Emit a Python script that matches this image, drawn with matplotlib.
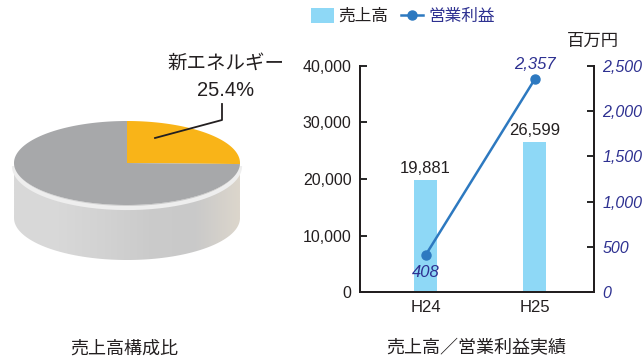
import numpy as np
import matplotlib
matplotlib.use('Agg')
import matplotlib.pyplot as plt
from matplotlib.patches import Polygon
from matplotlib.colors import LinearSegmentedColormap

plt.rcParams['font.family'] = ['Liberation Sans', 'Noto Sans CJK JP']

# pie data
pie_labels = ['新エネルギー', 'その他']
pie_shares = [25.4, 74.6]
pie_colors = ['#f9b418', '#a7a8aa']

# bar / line data
years = ['H24', 'H25']
sales = [19881, 26599]
profit = [408, 2357]

navy = '#2e3191'
bar_color = '#8ed8f6'
line_color = '#2d79c0'
ink = '#231f20'

W, H = 644, 357
fig = plt.figure(figsize=(W / 100, H / 100), dpi=100)

# overlay in pixel coordinates for the 3d pie and free text
ov = fig.add_axes([0, 0, 1, 1])
ov.axis('off')

cx, cy, rx, ry, depth = 127, 163, 113, 42, 55


def ell(t):
    return cx + rx * np.cos(t), cy - ry * np.sin(t)


# side of the cylinder (front half)
t = np.linspace(np.pi, 2 * np.pi, 200)
xs, ys = ell(t)
side = np.vstack([np.column_stack([xs, ys]),
                  np.column_stack([xs[::-1], ys[::-1] + depth])])
side_poly = Polygon(side, closed=True, facecolor='none', edgecolor='none')
ov.add_patch(side_poly)
cmap = LinearSegmentedColormap.from_list(
    'side', ['#d9d9d9', '#d8d8d8', '#d2d2d2', '#cbcbcb', '#c9c9c9', '#dcd6cc'])
grad = np.linspace(0, 1, 300).reshape(1, -1)
im = ov.imshow(grad, cmap=cmap, extent=[cx - rx, cx + rx, cy + ry + depth, cy - ry],
               aspect='auto', zorder=1)
im.set_clip_path(side_poly)
# light rim just under the top face
ov.plot(xs, ys + 3, color='#eeeeee', lw=3, zorder=2, solid_capstyle='butt')
ov.set_xlim(0, W)
ov.set_ylim(H, 0)

# top face wedges, starting at 12 o'clock going clockwise
start = 90.0
for share, col in zip(pie_shares, pie_colors):
    end = start - share / 100 * 360
    tt = np.radians(np.linspace(start, end, 200))
    px, py = ell(tt)
    pts = np.vstack([[cx, cy], np.column_stack([px, py])])
    ov.add_patch(Polygon(pts, closed=True, facecolor=col, edgecolor='none', zorder=3))
    start = end

# label with leader line
ov.text(226, 64, pie_labels[0], ha='center', va='center', fontsize=14, color=ink)
ov.text(226, 90, '{:.1f}%'.format(pie_shares[0]), ha='center', va='center',
        fontsize=14.5, color=ink)
ov.plot([222, 222, 155], [104, 120, 138], color=ink, lw=1.3, zorder=4)

ov.text(124, 349, '売上高構成比', ha='center', va='center', fontsize=13, color=ink)
ov.text(476, 349, '売上高／営業利益実績', ha='center', va='center', fontsize=13, color=ink)
ov.text(593, 41, '百万円', ha='center', va='center', fontsize=12.5, color=ink)

# bar + line chart
ax = fig.add_axes([360 / W, 1 - 292 / H, (594 - 360) / W, (292 - 66) / H])
x = np.arange(len(years))
bars = ax.bar(x, sales, width=0.21, color=bar_color, zorder=2, label='売上高')
ax.set_xlim(-0.6, 1.54)
ax.set_ylim(0, 40000)
ax.set_yticks(range(0, 40001, 10000))
ax.set_yticklabels(['{:,}'.format(v) for v in range(0, 40001, 10000)])
ax.set_xticks(x)
ax.set_xticklabels(years)
ax.tick_params(axis='y', direction='in', length=5, width=1.2, pad=6, labelsize=11.5,
               labelcolor=ink)
ax.tick_params(axis='x', length=0, pad=6, labelsize=12, labelcolor=ink)
for s in ['left', 'bottom', 'right']:
    ax.spines[s].set_linewidth(1.4)
    ax.spines[s].set_color(ink)
ax.spines['top'].set_visible(False)
ax.patch.set_visible(False)

for xi, v in zip(x, sales):
    ax.annotate('{:,}'.format(v), (xi, v), xytext=(0, 3), textcoords='offset points',
                ha='center', va='bottom', fontsize=12, color=ink)

ax2 = ax.twinx()
line, = ax2.plot(x, profit, color=line_color, lw=1.8, marker='o', ms=6.5, zorder=3, label='営業利益')
ax2.set_ylim(0, 2500)
ax2.set_yticks(range(0, 2501, 500))
ax2.set_yticklabels(['{:,}'.format(v) for v in range(0, 2501, 500)], style='italic')
ax2.tick_params(axis='y', direction='in', length=5, width=1.2, pad=6, labelsize=11.5,
                labelcolor=navy)
for s in ['left', 'bottom', 'right']:
    ax2.spines[s].set_linewidth(1.4)
    ax2.spines[s].set_color(ink)
ax2.spines['top'].set_visible(False)

ax2.annotate('{:,}'.format(profit[1]), (x[1], profit[1]), xytext=(0, 5), textcoords='offset points',
             ha='center', va='bottom', fontsize=12, color=navy, style='italic')
ax2.annotate('{:,}'.format(profit[0]), (x[0], profit[0]), xytext=(0, -7), textcoords='offset points',
             ha='center', va='top', fontsize=12, color=navy, style='italic')

leg = fig.legend([bars, line], ['売上高', '営業利益'], loc='upper left',
                 bbox_to_anchor=(311 / W, 1 - 8 / H), ncol=2, frameon=False, fontsize=12,
                 handlelength=1.35, handleheight=1.0, handletextpad=0.3, columnspacing=0.75,
                 borderpad=0, borderaxespad=0)
leg.get_texts()[0].set_color(ink)
leg.get_texts()[1].set_color(navy)
leg.get_texts()[1].set_style('italic')

fig.savefig('out.png', dpi=100)
